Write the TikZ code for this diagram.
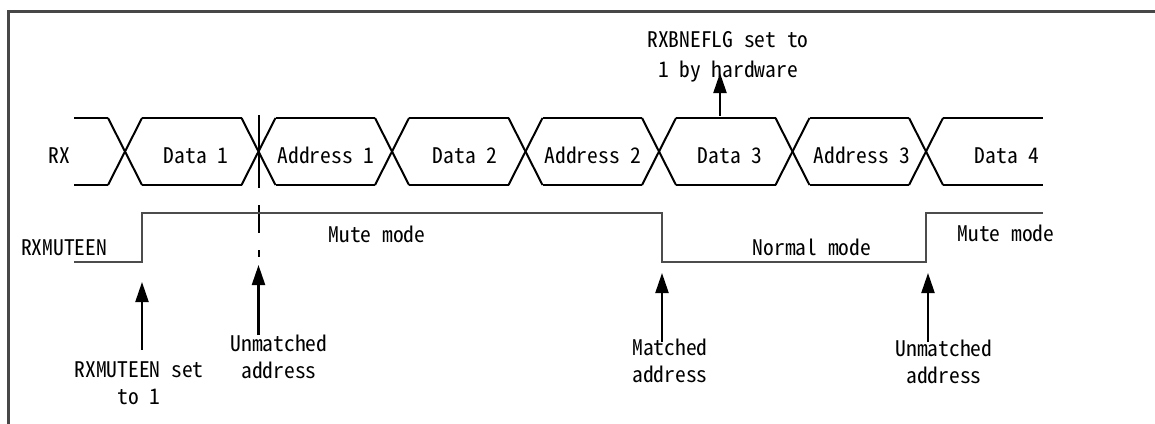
\documentclass[tikz,border=0pt]{standalone}
\usepackage{fontspec}
\setmainfont{Noto Sans CJK SC}[RawFeature=+hwid]
\usetikzlibrary{arrows.meta}
\begin{document}
\begin{tikzpicture}[x=1pt,y=-1pt,
  sig/.style={line width=2pt,black},
  ctl/.style={line width=2.1pt,draw=black!70},
  frame/.style={line width=3pt,draw=black!72},
  arr/.style={line width=2.2pt,-{Triangle[length=20pt,width=13pt]}},
  lab/.style={font=\fontsize{21.5}{27}\selectfont,inner sep=0pt,anchor=base,align=center},
]
\useasboundingbox (0,0) rectangle (1155,423);
\draw[frame] (1160,11) -- (8,11) -- (8,430);
% RX bus
\foreach \c in {125,258.5,392,525.5,659,792.5,926}{
  \draw[sig] (\c-17,118) -- (\c+17,185);
  \draw[sig] (\c-17,185) -- (\c+17,118);
}
\foreach \a/\b in {74/108,142/241.5,275.5/375,409/508.5,542.5/642,676/775.5,809.5/909,943/1043}{
  \draw[sig] (\a,118) -- (\b,118);
  \draw[sig] (\a,185) -- (\b,185);
}
\node[lab] (rx) at (59,163) {RX};
\node[lab] (d1) at (196,163) {Data 1};
\node[lab] (ad1) at (326,163) {Address 1};
\node[lab] (d2) at (465,163) {Data 2};
\node[lab] (ad2) at (593,163) {Address 2};
\node[lab] (d3) at (730,163) {Data 3};
\node[lab] (ad3) at (862,163) {Address 3};
\node[lab] (d4) at (1007,163) {Data 4};
% marker line
\draw[sig] (258.5,115) -- (258.5,188);
\draw[sig] (258.5,205) -- (258.5,233);
\draw[sig] (258.5,250) -- (258.5,257);
% RXMUTEEN waveform
\draw[ctl] (74,262) -- (142,262) -- (142,213) -- (662,213) -- (662,262) -- (926,262) -- (926,213) -- (1043,213);
\node[lab] (mu) at (64,255) {RXMUTEEN};
\node[lab] (mm1) at (377,242) {Mute mode};
\node[lab] (nm) at (812,255) {Normal mode};
\node[lab] (mm2) at (1006,241) {Mute mode};
% flag annotation
\node[lab] (flg) at (728,77) {RXBNEFLG set to\\[3pt]1 by hardware};
\coordinate (fs) at (720,116);
\coordinate (ft) at (720,73);
\draw[arr] (fs) -- (ft);
% bottom annotations
\node[lab] (l1) at (139,404) {RXMUTEEN set\\to 1};
\node[lab] (l2) at (279,378) {Unmatched\\address};
\node[lab] (l3) at (670,382) {Matched\\address};
\node[lab] (l4) at (944,383) {Unmatched\\address};
\coordinate (s1) at (142,350); \coordinate (t1) at (142,282);
\coordinate (s2) at (258.5,335); \coordinate (t2) at (258.5,265);
\coordinate (s3) at (662,342); \coordinate (t3) at (662,273);
\coordinate (s4) at (928,342); \coordinate (t4) at (928,273);
\draw[arr] (s1) -- (t1);
\draw[arr] (s2) -- (t2);
\draw[arr] (s3) -- (t3);
\draw[arr] (s4) -- (t4);
\end{tikzpicture}
\end{document}
